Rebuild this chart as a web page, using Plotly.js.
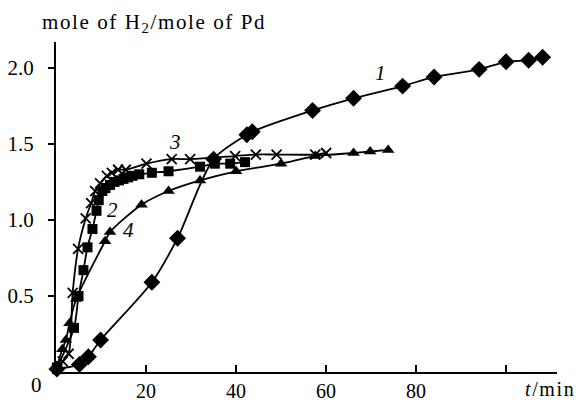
<!DOCTYPE html>
<html>
<head>
<meta charset="utf-8">
<script src="https://cdn.plot.ly/plotly-3.0.1.min.js"></script>
<style>html,body{margin:0;padding:0;background:#fff;}#chart{width:579px;height:402px;}</style>
</head>
<body>
<div id="chart"></div>
<script>
// Curve 1 (diamonds)
const t1 = [0.2, 5.2, 7.2, 9.9, 21.3, 27.0, 35.0, 42.4, 43.6, 57.0, 66.1, 77.0, 84.0, 94.0, 100.0, 105.0, 108.1];
const v1 = [0.02, 0.05, 0.10, 0.21, 0.59, 0.88, 1.40, 1.56, 1.58, 1.72, 1.80, 1.88, 1.94, 1.99, 2.04, 2.05, 2.07];
// Curve 2 (squares)
const t2 = [0.2, 4.0, 5.0, 6.1, 7.0, 8.1, 9.0, 9.5, 10.3, 11.0, 12.0, 13.0, 14.0, 15.0, 16.0, 17.0, 18.5, 21.3, 25.0, 32.0, 35.3, 38.7, 42.0];
const v2 = [0.03, 0.29, 0.50, 0.67, 0.82, 0.94, 1.06, 1.13, 1.19, 1.21, 1.23, 1.25, 1.26, 1.27, 1.28, 1.29, 1.30, 1.31, 1.32, 1.35, 1.37, 1.37, 1.38];
// Curve 3 (crosses)
const t3 = [0.3, 1.5, 2.8, 3.7, 4.9, 6.6, 7.8, 8.7, 9.8, 11.3, 12.4, 13.8, 15.5, 20.1, 25.7, 29.8, 39.8, 44.4, 49.0, 57.6, 60.0];
const v3 = [0.02, 0.07, 0.12, 0.52, 0.81, 1.01, 1.11, 1.19, 1.24, 1.29, 1.31, 1.33, 1.33, 1.37, 1.40, 1.40, 1.42, 1.43, 1.43, 1.43, 1.44];
// Curve 4 (triangles)
const t4 = [0.2, 1.4, 2.2, 3.0, 4.5, 10.9, 12.0, 19.0, 25.0, 32.0, 40.0, 50.0, 57.6, 66.1, 69.8, 73.8];
const v4 = [0.03, 0.15, 0.21, 0.32, 0.48, 0.86, 0.92, 1.10, 1.19, 1.26, 1.32, 1.37, 1.42, 1.44, 1.45, 1.46];

const xTicks = [20, 40, 60, 80];
const xTickText = ['20', '40', '60', '80'];
const xTicksUnlabelled = [100];
const yTicks = [0.5, 1.0, 1.5, 2.0];
const yTickText = ['0.5', '1.0', '1.5', '2.0'];

const FONT = 'Liberation Serif';
const line = {color: '#000', width: 1.8, shape: 'spline', smoothing: 0.8};

function tr(x, y, sym, size) {
  const mk = {symbol: sym, size: size, color: '#000'};
  if (sym === 'x-thin-open') mk.line = {color: '#000', width: 1.8};
  return {x: x, y: y, type: 'scatter', mode: 'lines+markers', line: line, marker: mk, cliponaxis: false, showlegend: false, hoverinfo: 'skip'};
}

const data = [
  tr(t1, v1, 'diamond', 13),
  tr(t4, v4, 'triangle-up', 11),
  tr(t2, v2, 'square', 10),
  tr(t3, v3, 'x-thin-open', 10),
  {x: xTicksUnlabelled, y: [null], xaxis: 'x2', type: 'scatter', mode: 'markers', showlegend: false, hoverinfo: 'skip'}
];

const W = 579, H = 402, L = 56, R = 22, T = 42, B = 30;
const pw = W - L - R, ph = H - T - B;
function px(xp) { return (xp - L) / pw; }
function py(yp) { return (H - B - yp) / ph; }

const tf = {family: FONT, size: 21, color: '#000'};
const xf = {family: FONT, size: 20, color: '#000'};
const ls = 'letter-spacing:1.6px';
const ann = [
  {text: '<span style="' + ls + '">mole of H<sub>2</sub>/mole of Pd</span>', x: px(40), y: py(23), xref: 'paper', yref: 'paper', xanchor: 'left', yanchor: 'middle', showarrow: false, font: tf},
  {text: '0', x: px(44), y: py(385), xref: 'paper', yref: 'paper', xanchor: 'right', yanchor: 'middle', showarrow: false, font: tf},
  {text: '<span style="' + ls + '"><i>t</i>/min</span>', x: px(577), y: py(389), xref: 'paper', yref: 'paper', xanchor: 'right', yanchor: 'middle', showarrow: false, font: xf},
  {text: '<i>1</i>', x: px(380), y: py(73), xref: 'paper', yref: 'paper', xanchor: 'center', yanchor: 'middle', showarrow: false, font: tf},
  {text: '<i>3</i>', x: px(175), y: py(142), xref: 'paper', yref: 'paper', xanchor: 'center', yanchor: 'middle', showarrow: false, font: tf},
  {text: '<i>2</i>', x: px(112), y: py(210), xref: 'paper', yref: 'paper', xanchor: 'center', yanchor: 'middle', showarrow: false, font: tf},
  {text: '<i>4</i>', x: px(128), y: py(230), xref: 'paper', yref: 'paper', xanchor: 'center', yanchor: 'middle', showarrow: false, font: tf}
];

const layout = {
  width: W, height: H,
  margin: {l: L, r: R, t: T, b: B, pad: 0},
  paper_bgcolor: '#fff', plot_bgcolor: '#fff',
  font: tf,
  xaxis: {
    range: [0, 111.3], showgrid: false, zeroline: false,
    showline: true, linecolor: '#000', linewidth: 2,
    tickmode: 'array', tickvals: xTicks, ticktext: xTickText,
    ticks: 'inside', ticklen: 7, tickwidth: 1.5, tickcolor: '#000',
    ticklabelstandoff: 0,
    tickfont: xf
  },
  xaxis2: {
    range: [0, 111.3], overlaying: 'x', side: 'bottom', anchor: 'y',
    showgrid: false, zeroline: false, showline: false,
    tickmode: 'array', tickvals: xTicksUnlabelled, showticklabels: false,
    ticks: 'inside', ticklen: 7, tickwidth: 1.5, tickcolor: '#000'
  },
  yaxis: {
    range: [0, 2.17], showgrid: false, zeroline: false,
    showline: true, linecolor: '#000', linewidth: 2,
    tickmode: 'array', tickvals: yTicks, ticktext: yTickText,
    ticks: 'outside', ticklen: 6, tickwidth: 1.5, tickcolor: '#000',
    ticklabelstandoff: 10,
    tickfont: tf
  },
  annotations: ann
};

Plotly.newPlot('chart', data, layout, {staticPlot: true, displayModeBar: false});
</script>
</body>
</html>
